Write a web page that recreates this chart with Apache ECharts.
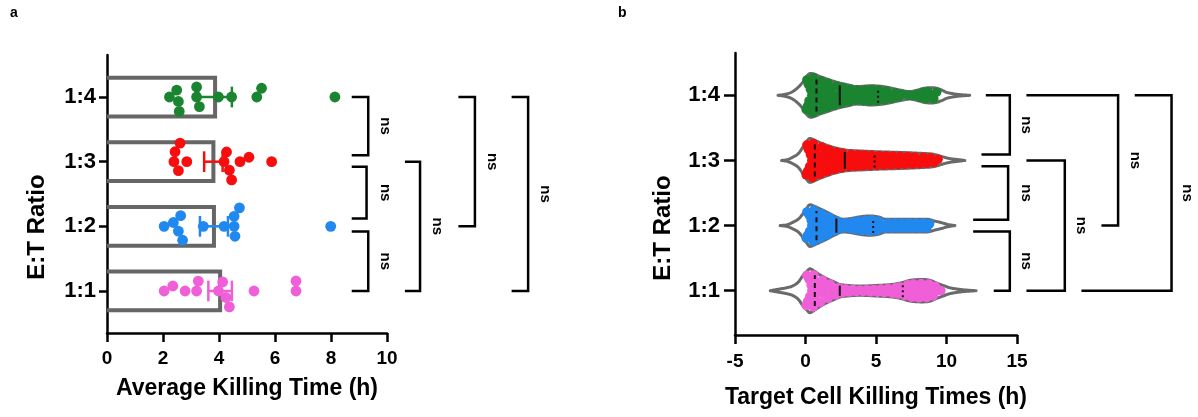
<!DOCTYPE html>
<html><head><meta charset="utf-8">
<script src="https://cdn.jsdelivr.net/npm/echarts@6/dist/echarts.min.js"></script>
<style>html,body{margin:0;padding:0;background:#fff}#c{width:1198px;height:417px}</style>
</head><body><div id="c"></div>
<script>
// ---------- DATA ----------
const categories = ['1:1', '1:2', '1:3', '1:4'];
const groupColors = ['#f05fd8', '#2088ee', '#f70d0d', '#1a8431'];

// Panel a: average killing time per experiment (h)
const avgTime_1to1 = [2.35, 2.04, 2.79, 3.2, 3.26, 4.25, 4.13, 3.98, 4.37, 5.25, 6.75, 6.75];
const avgTime_1to2 = [2.63, 2.37, 2.04, 2.7, 2.55, 3.44, 4.18, 4.54, 4.73, 4.57, 4.54, 7.99];
const avgTime_1to3 = [2.55, 2.43, 2.61, 2.39, 2.85, 4.27, 4.45, 4.37, 4.18, 4.75, 5.07, 5.88];
const avgTime_1to4 = [2.55, 2.49, 2.58, 2.23, 3.2, 3.3, 3.2, 3.98, 4.45, 5.52, 5.35, 8.14];
const meanA = [4.04, 3.82, 3.80, 3.86];
const semA = [0.42, 0.50, 0.33, 0.60];

// Panel b: individual target cell killing times (h)
const killTimes_1to1 = [0.05,0.1,0.15,0.25,0.3,0.4,0.45, 0.55,0.6,0.7,0.8,0.85,0.95, 1.05,1.2,1.3,1.45, 1.6,1.75,1.9,
  2.15,2.35, 2.6,2.85, 3.1,3.35, 3.6,3.85, 4.1,4.35, 4.6,4.85, 5.1,5.35, 5.6,5.85, 6.15,6.4, 6.55,6.7,6.9,
  7.05,7.25,7.45, 7.55,7.65,7.8,7.95, 8.05,8.2,8.3,8.45, 8.6,8.75,8.9, 9.05,9.2,9.4, 9.6];
const killTimes_1to2 = [0.05,0.1,0.15,0.25,0.3,0.4,0.45, 0.55,0.6,0.7,0.8,0.85,0.95, 1.05,1.15,1.25,1.35,1.45,
  1.55,1.7,1.8,1.95, 2.1,2.25,2.4, 2.6,2.85, 3.15,3.4, 3.55,3.7,3.9, 4.05,4.25,4.45, 4.55,4.7,4.9, 5.05,5.2,5.4,
  5.6,5.85, 6.1,6.35, 6.6,6.85, 7.1,7.35, 7.6,7.85, 8.1,8.35, 8.6,8.8];
const killTimes_1to3 = [0.05,0.1,0.15,0.2,0.3,0.35,0.45, 0.5,0.55,0.65,0.7,0.8,0.85,0.95, 1.05,1.15,1.25,1.35,1.45,
  1.55,1.65,1.75,1.85,1.95, 2.05,2.2,2.3,2.45, 2.55,2.65,2.8,2.95, 3.1,3.25,3.4, 3.6,3.75,3.9, 4.05,4.2,4.4,
  4.55,4.7,4.9, 5.05,5.2,5.4, 5.55,5.7,5.9, 6.05,6.2,6.4, 6.55,6.7,6.9, 7.05,7.25,7.4, 7.6,7.75,7.9,
  8.1,8.35, 8.6,8.85, 9.1,9.4];
const killTimes_1to4 = [0.05,0.1,0.15,0.2,0.25,0.35,0.45, 0.5,0.55,0.6,0.7,0.75,0.85,0.95, 1.05,1.1,1.2,1.3,1.45,
  1.55,1.6,1.7,1.8,1.95, 2.05,2.2,2.3,2.45, 2.55,2.65,2.8,2.9, 3.1,3.2,3.4, 3.6,3.75,3.9, 4.1,4.25,4.4,
  4.55,4.7,4.85, 5.05,5.2,5.4, 5.6,5.75,5.9, 6.1,6.35, 6.6,6.85, 7.3, 7.6,7.9, 8.1,8.35, 8.55,8.7,8.9, 9.1,9.3];

// Violin density (relative half-width, peak = 1) at sampled times
const violinX_1to1 = [-2.5,-1.8,-1.3,-0.9,-0.5,-0.17,0.1,0.3,0.7,1.0,1.5,2.0,2.43,3.0,3.85,5.0,6.2,6.8,7.4,8.3,8.8,9.3,9.8,10.2,10.7,11.2,12.1];
const violinD_1to1 = [0,0.08,0.14,0.22,0.4,0.7,0.88,1,0.86,0.73,0.55,0.41,0.29,0.24,0.21,0.24,0.29,0.36,0.47,0.51,0.48,0.35,0.23,0.14,0.08,0.04,0];
const violinX_1to2 = [-1.8,-1.3,-0.9,-0.5,-0.17,0.1,0.3,0.7,1.0,1.5,2.0,2.67,3.2,3.85,4.55,5.2,5.7,6.5,7.4,8.6,9.2,9.6,10.1,10.6];
const violinD_1to2 = [0,0.04,0.15,0.3,0.55,0.8,0.95,0.86,0.77,0.62,0.45,0.29,0.32,0.4,0.44,0.39,0.29,0.29,0.29,0.29,0.2,0.14,0.05,0];
const violinX_1to3 = [-1.7,-1.3,-0.9,-0.5,-0.17,0.1,0.3,0.7,1.0,1.5,2.0,2.9,4.0,5.0,6.0,7.4,8.3,9.0,9.4,9.7,10.2,10.8,11.3];
const violinD_1to3 = [0,0.04,0.15,0.32,0.62,0.88,1,0.91,0.82,0.7,0.59,0.47,0.43,0.4,0.38,0.35,0.32,0.29,0.23,0.17,0.09,0.04,0];
const violinX_1to4 = [-1.95,-1.5,-1.0,-0.6,-0.2,0.1,0.35,0.7,1.0,1.5,2.0,2.5,3.0,3.6,4.2,4.6,5.0,5.5,6.0,6.7,7.4,7.9,8.4,8.9,9.3,9.7,10.0,10.5,11.0,11.65];
const violinD_1to4 = [0,0.04,0.14,0.32,0.59,0.88,1,0.95,0.86,0.75,0.64,0.55,0.48,0.4,0.42,0.44,0.43,0.4,0.34,0.24,0.17,0.23,0.32,0.35,0.32,0.23,0.14,0.07,0.03,0];
const q1B = [0.66, 0.78, 0.66, 0.78];
const medianB = [2.43, 2.19, 2.79, 2.43];
const q3B = [6.9, 4.8, 4.9, 5.15];

// Significance comparisons (same in both panels)
const comparisons = [['1:4','1:3'], ['1:3','1:2'], ['1:2','1:1'], ['1:3','1:1'], ['1:4','1:2'], ['1:4','1:1']];
const sigLabels = ['ns', 'ns', 'ns', 'ns', 'ns', 'ns'];

const xTicksA = [0, 10, 2];
const xTicksB = [-5, 15, 5];

// ---------- LAYOUT / STYLE ----------
const FONT = 'Liberation Sans, Arial, Helvetica, sans-serif';
const avgSets = [avgTime_1to1, avgTime_1to2, avgTime_1to3, avgTime_1to4];
const killSets = [killTimes_1to1, killTimes_1to2, killTimes_1to3, killTimes_1to4];
const violinXs = [violinX_1to1, violinX_1to2, violinX_1to3, violinX_1to4];
const violinDs = [violinD_1to1, violinD_1to2, violinD_1to3, violinD_1to4];
const VH = 0.337;      // category units per density 1
const R_B = 0.06;      // dot radius in category units (panel b)
const BAR_H = 0.6;
const CAP_H = 0.32;
// bracket geometry: [xArmTop, xArmBottom, xVertical, shrinkTop, shrinkBottom, xLabel]
const bracketGeomA = [
  [8.74, 8.74, 9.33, 0, 0.1, 9.93],
  [8.74, 8.74, 9.27, 0.08, 0.12, 9.93],
  [8.74, 8.74, 9.33, 0.08, 0, 9.93],
  [10.64, 10.64, 11.18, 0, 0, 11.78],
  [12.55, 12.55, 13.14, 0, 0, 13.74],
  [14.45, 14.45, 15.04, 0, 0, 15.64]];
const bracketGeomB = [
  [12.79, 12.48, 14.49, 0, 0.09, 15.67],
  [12.48, 11.89, 14.37, 0.09, 0.09, 15.67],
  [11.89, 13.35, 14.49, 0.09, 0, 15.67],
  [15.67, 15.67, 18.39, 0, 0, 19.57],
  [15.67, 20.99, 22.17, 0, 0, 23.35],
  [23.35, 19.57, 25.96, 0, 0, 27.1]];

function interp(xs, ys, x) {
  if (x <= xs[0]) return ys[0];
  if (x >= xs[xs.length - 1]) return ys[ys.length - 1];
  for (let i = 1; i < xs.length; i++) {
    if (x <= xs[i]) { const t = (x - xs[i-1]) / (xs[i] - xs[i-1]); return ys[i-1] + t * (ys[i] - ys[i-1]); }
  }
  return 0;
}
// monotone cubic (Fritsch-Carlson) resampling of the violin outline
function monotoneSample(xs, ys, step) {
  const n = xs.length, d = [], m = new Array(n);
  for (let k = 0; k < n - 1; k++) d.push((ys[k+1] - ys[k]) / (xs[k+1] - xs[k]));
  m[0] = d[0]; m[n-1] = d[n-2];
  for (let k = 1; k < n - 1; k++) m[k] = (d[k-1] * d[k] <= 0) ? 0 : (d[k-1] + d[k]) / 2;
  for (let k = 0; k < n - 1; k++) {
    if (d[k] === 0) { m[k] = 0; m[k+1] = 0; continue; }
    const a = m[k] / d[k], b = m[k+1] / d[k], s = a * a + b * b;
    if (s > 9) { const t = 3 / Math.sqrt(s); m[k] = t * a * d[k]; m[k+1] = t * b * d[k]; }
  }
  const out = [];
  for (let k = 0; k < n - 1; k++) {
    const h = xs[k+1] - xs[k];
    const steps = Math.max(1, Math.ceil(h / step));
    for (let j = 0; j < steps; j++) {
      const t = j / steps, t2 = t * t, t3 = t2 * t;
      const y = (2*t3 - 3*t2 + 1) * ys[k] + (t3 - 2*t2 + t) * h * m[k] + (-2*t3 + 3*t2) * ys[k+1] + (t3 - t2) * h * m[k+1];
      out.push([xs[k] + t * h, Math.max(0, y)]);
    }
  }
  out.push([xs[n-1], ys[n-1]]);
  return out;
}

const chart = echarts.init(document.getElementById('c'), null, {renderer: 'canvas'});

function axisCommon() {
  return {
    axisLine: {show: true, onZero: false, lineStyle: {color: '#000', width: 2.5}},
    splitLine: {show: false},
  };
}

const xAxes = [
  Object.assign(axisCommon(), {gridIndex: 0, type: 'value', min: xTicksA[0], max: xTicksA[1], interval: xTicksA[2],
    axisTick: {show: true, length: 9, lineStyle: {color: '#000', width: 2.5}},
    axisLabel: {fontSize: 19, fontWeight: 'bold', color: '#000', fontFamily: FONT, margin: 16},
    name: 'Average Killing Time (h)', nameLocation: 'middle', nameGap: 44,
    nameTextStyle: {fontSize: 23, fontWeight: 'bold', color: '#000', fontFamily: FONT}}),
  Object.assign(axisCommon(), {gridIndex: 1, type: 'value', min: xTicksB[0], max: xTicksB[1], interval: xTicksB[2],
    axisTick: {show: true, length: 9, lineStyle: {color: '#000', width: 2.5}},
    axisLabel: {fontSize: 19, fontWeight: 'bold', color: '#000', fontFamily: FONT, margin: 17},
    name: 'Target Cell Killing Times (h)', nameLocation: 'middle', nameGap: 51,
    nameTextStyle: {fontSize: 23, fontWeight: 'bold', color: '#000', fontFamily: FONT}})
];
const catVals = categories.map((c, i) => i + 1);
const yAxes = [
  Object.assign(axisCommon(), {gridIndex: 0, type: 'value', min: 0.35, max: 4.65,
    axisTick: {show: true, length: 8, customValues: catVals, lineStyle: {color: '#000', width: 2.5}},
    axisLabel: {customValues: catVals, formatter: v => categories[Math.round(v) - 1] || '',
      fontSize: 22, fontWeight: 'bold', color: '#000', fontFamily: FONT, margin: 11}}),
  Object.assign(axisCommon(), {gridIndex: 1, type: 'value', min: 0.32, max: 4.65,
    axisTick: {show: true, length: 11, customValues: catVals, lineStyle: {color: '#000', width: 2.5}},
    axisLabel: {customValues: catVals, formatter: v => categories[Math.round(v) - 1] || '',
      fontSize: 22, fontWeight: 'bold', color: '#000', fontFamily: FONT, margin: 15}})
];

function bracketSeries(ai, geom) {
  return {
    type: 'custom', xAxisIndex: ai, yAxisIndex: ai, clip: false, silent: true, z: 5,
    data: comparisons.map((c, i) => [i]),
    renderItem: function (params, api) {
      const i = params.dataIndex;
      const g = geom[i];
      const yT = categories.indexOf(comparisons[i][0]) + 1 - g[3];
      const yB = categories.indexOf(comparisons[i][1]) + 1 + g[4];
      const a = api.coord([g[0], yT]), b = api.coord([g[2], yT]);
      const c = api.coord([g[2], yB]), d = api.coord([g[1], yB]);
      const l = api.coord([g[5], (yT + yB) / 2]);
      return {type: 'group', children: [
        {type: 'polyline', shape: {points: [a, b, c, d]}, style: {stroke: '#000', lineWidth: 2.5, fill: null}},
        {type: 'text', x: l[0], y: l[1], rotation: -Math.PI / 2,
          style: {text: sigLabels[i], fontSize: 15, fontWeight: 'bold', fontFamily: FONT, fill: '#000', align: 'center', verticalAlign: 'middle'}}
      ]};
    }
  };
}

const baseSeries = [];
// Panel a bars (open rectangle, no left edge)
baseSeries.push({
  id: 'barsA', type: 'custom', xAxisIndex: 0, yAxisIndex: 0, z: 2,
  data: meanA.map((m, i) => [m, i + 1]),
  renderItem: function (params, api) {
    const p = api.coord([api.value(0), api.value(1)]);
    const p0 = api.coord([0, api.value(1)]);
    const h = api.size([0, BAR_H])[1];
    return {type: 'polyline', shape: {points: [[p0[0], p[1] - h / 2], [p[0], p[1] - h / 2], [p[0], p[1] + h / 2], [p0[0], p[1] + h / 2]]},
      style: {stroke: '#666666', lineWidth: 4, fill: null}};
  }
});
// Panel a error bars
baseSeries.push({
  id: 'errA', type: 'custom', xAxisIndex: 0, yAxisIndex: 0, z: 6,
  data: meanA.map((m, i) => [m, i + 1, semA[i]]),
  renderItem: function (params, api) {
    const m = api.value(0), c = api.value(1), s = api.value(2);
    const lo = api.coord([m - s, c]), hi = api.coord([m + s, c]);
    const ch = api.size([0, CAP_H])[1] / 2;
    const col = groupColors[params.dataIndex];
    const st = {stroke: col, lineWidth: 2.5};
    return {type: 'group', children: [
      {type: 'line', shape: {x1: lo[0], y1: lo[1], x2: hi[0], y2: hi[1]}, style: st},
      {type: 'line', shape: {x1: lo[0], y1: lo[1] - ch, x2: lo[0], y2: lo[1] + ch}, style: st},
      {type: 'line', shape: {x1: hi[0], y1: hi[1] - ch, x2: hi[0], y2: hi[1] + ch}, style: st}
    ]};
  }
});
// Panel b violins
baseSeries.push({
  id: 'violinB', type: 'custom', xAxisIndex: 1, yAxisIndex: 1, z: 2,
  data: categories.map((c, i) => [i + 1]),
  renderItem: function (params, api) {
    const gi = params.dataIndex, c = gi + 1;
    const pts = monotoneSample(violinXs[gi], violinDs[gi], 0.05);
    const top = pts.map(p => api.coord([p[0], c + p[1] * VH]));
    const bot = pts.map(p => api.coord([p[0], c - p[1] * VH])).reverse();
    return {type: 'polygon', shape: {points: top.concat(bot)},
      style: {stroke: '#6a6a6a', lineWidth: 3, fill: null, lineJoin: 'round'}};
  }
});
// Panel b quartile lines
baseSeries.push({
  id: 'quartB', type: 'custom', xAxisIndex: 1, yAxisIndex: 1, z: 6,
  data: categories.map((c, i) => [i + 1]),
  renderItem: function (params, api) {
    const gi = params.dataIndex, c = gi + 1;
    const xs = violinXs[gi], ds = violinDs[gi];
    const mk = (q, dash, w) => {
      const hw = interp(xs, ds, q) * VH * 0.8;
      const a = api.coord([q, c - hw]), b = api.coord([q, c + hw]);
      return {type: 'line', shape: {x1: a[0], y1: a[1], x2: b[0], y2: b[1]}, style: {stroke: '#111', lineWidth: w, lineDash: dash}};
    };
    return {type: 'group', children: [mk(q1B[gi], [5, 4], 2), mk(medianB[gi], null, 2), mk(q3B[gi], [2, 3], 2)]};
  }
});
baseSeries.push(Object.assign({id: 'brA'}, bracketSeries(0, bracketGeomA)));
baseSeries.push(Object.assign({id: 'brB'}, bracketSeries(1, bracketGeomB)));

const option = {
  animation: false,
  backgroundColor: '#ffffff',
  textStyle: {fontFamily: FONT},
  grid: [
    {left: 107, right: 811, top: 55, bottom: 84},
    {left: 735, right: 181, top: 53, bottom: 82}
  ],
  xAxis: xAxes,
  yAxis: yAxes,
  graphic: [
    {type: 'text', x: 10, y: 6, style: {text: 'a', fontSize: 14, fontWeight: 'bold', fontFamily: FONT, fill: '#000'}},
    {type: 'text', x: 618, y: 6, style: {text: 'b', fontSize: 14, fontWeight: 'bold', fontFamily: FONT, fill: '#000'}},
    {type: 'text', x: 37, y: 227, rotation: Math.PI / 2,
      style: {text: 'E:T Ratio', fontSize: 24, fontWeight: 'bold', fontFamily: FONT, fill: '#000', align: 'center', verticalAlign: 'middle'}},
    {type: 'text', x: 663, y: 228, rotation: Math.PI / 2,
      style: {text: 'E:T Ratio', fontSize: 24, fontWeight: 'bold', fontFamily: FONT, fill: '#000', align: 'center', verticalAlign: 'middle'}}
  ],
  series: baseSeries
};
chart.setOption(option);

// ---------- point layouts ----------
function swarm(xsPx, d) {
  const idx = xsPx.map((x, i) => i).sort((a, b) => xsPx[a] - xsPx[b]);
  const placed = [], out = new Array(xsPx.length);
  for (const i of idx) {
    const x = xsPx[i];
    const cands = [0];
    for (const q of placed) {
      const dx = Math.abs(q.x - x);
      if (dx < d) { const h = Math.sqrt(d * d - dx * dx); cands.push(q.y + h, q.y - h); }
    }
    cands.sort((a, b) => Math.abs(a) - Math.abs(b) || a - b);
    let y = 0;
    for (const c of cands) {
      if (placed.every(q => (q.x - x) * (q.x - x) + (q.y - c) * (q.y - c) >= d * d - 0.01)) { y = c; break; }
    }
    placed.push({x, y}); out[i] = y;
  }
  return out;
}
function violinFill(vals, xs, ds, c) {
  const bins = {};
  vals.forEach(v => { const k = Math.floor(v / 0.5); (bins[k] = bins[k] || []).push(v); });
  const out = [];
  Object.keys(bins).forEach(k => {
    const arr = bins[k].slice().sort((a, b) => a - b);
    const n = arr.length;
    arr.forEach((v, i) => {
      const slot = i % 2 === 0 ? i / 2 : n - 1 - (i - 1) / 2;
      const A = Math.max(0, interp(xs, ds, v) * VH - R_B);
      const off = n === 1 ? 0 : -A + slot * 2 * A / (n - 1);
      out.push([v, c + off]);
    });
  });
  return out;
}

const dotSeries = [];
avgSets.forEach((vals, gi) => {
  const c = gi + 1;
  const xsPx = vals.map(v => chart.convertToPixel({xAxisIndex: 0}, v));
  const offs = swarm(xsPx, 10);
  dotSeries.push({
    id: 'dotsA' + gi, type: 'custom', xAxisIndex: 0, yAxisIndex: 0, z: 4,
    data: vals.map((v, k) => [v, c, offs[k]]),
    renderItem: function (params, api) {
      const p = api.coord([api.value(0), api.value(1)]);
      return {type: 'circle', shape: {cx: p[0], cy: p[1] + api.value(2), r: 5.4}, style: {fill: groupColors[gi]}};
    }
  });
});
killSets.forEach((vals, gi) => {
  dotSeries.push({
    id: 'dotsB' + gi, type: 'scatter', xAxisIndex: 1, yAxisIndex: 1, z: 4,
    symbol: 'circle', symbolSize: 9.6, itemStyle: {color: groupColors[gi], opacity: 1, borderWidth: 0},
    data: violinFill(vals, violinXs[gi], violinDs[gi], gi + 1)
  });
});
chart.setOption({series: baseSeries.concat(dotSeries)});
</script>
</body></html>
